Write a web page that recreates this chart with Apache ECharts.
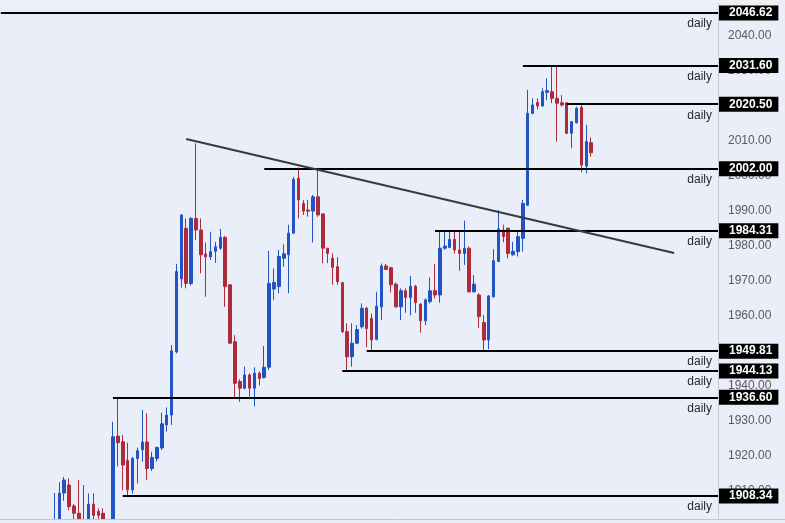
<!DOCTYPE html>
<html><head><meta charset="utf-8">
<script src="https://cdn.jsdelivr.net/npm/echarts@6/dist/echarts.min.js"></script>
<style>html,body{margin:0;padding:0;background:#e9eef8;}#c{width:785px;height:523px;}</style>
</head><body><div id="c"></div><script>
// daily candles (oldest first)
const opens = [
 1896,1899,1909.2,1911.5,1905.5,1903.4,1896,1900.5,1906.0,1903.9,1903.4,1900,
 1897,1925.5,1923.9,1918.5,1910.1,1919.1,1921.6,1923.8,1916.2,1919.1,
 1922.1,1928.7,1931.5,1949.6,1970.5,1985.0,1969.2,1987.8,1984.5,1977.6,
 1976.8,1978.4,1979.3,1982.4,1968.8,1952.5,1941.1,1939.2,1943.0,1939.2,
 1943.5,1942.3,1945.2,1967.6,1968.3,1976.4,1977.4,1983.6,1999.3,1992.1,
 1990.2,1989.9,1994.0,1989.1,1979.3,1976.4,1974.0,1969.4,1955.4,1948.2,
 1952.1,1956.8,1962.1,1959.2,1953.2,1962.5,1974.2,1973.7,1969.0,1962.5,
 1967.1,1965.2,1968.4,1963.3,1958.5,1964.0,1967.1,1965.9,1979.3,1979.5,
 1981.8,1978.8,1977.8,1979.3,1966.8,1965.9,1958.0,1953.0,1965.4,1975.5,
 1984.5,1985.0,1977.4,1978.3,1982.1,1991.6,2017.9,2021.0,2020.0,2023.9,
 2024.1,2022.2,2020.9,2020.9,2012.2,2015.2,2019.6,2002.8,2009.5
];
const closes = [
 1900,1909.2,1912.9,1905.3,1903.4,1900.5,1901,1906.0,1902.8,1902.8,1901.0,1896,
 1925.3,1923.6,1917.2,1910.1,1919.1,1921.3,1923.8,1916.2,1919.4,1922.2,
 1929.0,1931.5,1949.9,1972.6,1988.8,1969.2,1987.8,1984.5,1977.4,1976.8,
 1978.3,1979.7,1982.4,1968.3,1952.1,1940.6,1939.2,1943.0,1939.2,1943.5,
 1942.0,1945.2,1969.2,1969.5,1976.9,1977.7,1983.6,1999.0,1993.1,1989.9,
 1989.9,1994.0,1988.8,1979.3,1977.8,1973.8,1969.7,1955.4,1948.2,1952.1,
 1956.0,1962.1,1956.3,1953.0,1962.7,1974.2,1973.2,1968.8,1962.5,1967.1,
 1965.2,1968.4,1963.7,1958.5,1964.5,1967.1,1965.9,1979.3,1979.9,1981.8,
 1978.8,1977.8,1979.3,1966.8,1969.0,1959.7,1953.0,1965.6,1975.7,1984.8,
 1982.6,1977.8,1978.4,1982.6,1992.1,2017.9,2020.3,2020.0,2024.1,2024.4,
 2022.2,2020.8,2020.3,2012.2,2015.5,2019.3,2003.1,2009.8,2006.6
];
const lows = [
 1894,1897,1907,1904.3,1901,1899,1895,1899,1901,1901.2,1899,1894,
 1895,1916.8,1910,1908.34,1909,1911.9,1918.2,1912.9,1915.5,1918.2,
 1921.5,1926.8,1928.7,1949.2,1968.0,1967.8,1968.6,1981.6,1972.1,1965.4,
 1975.9,1975.1,1978.8,1962.5,1951.8,1936.3,1935.3,1938.9,1936.8,1934.0,
 1940.0,1942.0,1944.4,1964.5,1966.4,1974.0,1966.4,1983.4,1987.8,1988.8,
 1988.3,1980.9,1988.3,1975.0,1975.0,1968.8,1968.8,1955.0,1944.13,1945.4,
 1951.8,1956.3,1951.0,1949.81,1952.9,1958.7,1973.0,1966.6,1962.3,1958.7,
 1960.8,1960.1,1960.8,1955.1,1957.3,1963.5,1964.9,1963.7,1978.8,1979.3,
 1977.8,1972.8,1974.5,1966.6,1966.6,1956.5,1949.81,1950.4,1965.1,1975.3,
 1981.0,1976.4,1977.2,1976.9,1978.3,1991.4,2017.6,2019.0,2019.8,2021.7,
 2020.8,2009.8,2019.8,2011.9,2007.9,2015.0,2001.0,2000.7,2005.5
];
const highs = [
 1909.2,1912.3,1913.8,1913.4,1906.1,1912.9,1911.5,1909.1,1909.1,1904.8,1904.8,1901,
 1929.6,1936.6,1925.8,1923.6,1919.6,1922.2,1933.0,1932.0,1921.0,1922.5,
 1932.2,1933.7,1951.6,1974.8,1989.0,1987.8,1988.2,2009.3,1987.8,1980.9,
 1984.0,1981.1,1984.8,1982.8,1969.0,1954.4,1941.8,1945.4,1943.5,1945.2,
 1944.0,1951.3,1978.5,1973.5,1978.8,1980.4,1986.0,1999.7,2002.4,1993.1,
 1993.1,1994.5,2002.0,1989.3,1979.3,1977.8,1976.7,1969.7,1957.8,1957.8,
 1957.3,1963.5,1962.5,1960.6,1966.8,1974.9,1974.8,1974.0,1969.5,1967.8,
 1967.8,1971.3,1968.8,1963.5,1964.9,1970.9,1974.8,1984.0,1984.0,1984.0,
 1984.0,1984.5,1987.2,1979.8,1971.6,1966.4,1960.2,1965.9,1979.0,1990.2,
 1986.0,1985.2,1981.1,1984.0,1993.1,2024.6,2022.2,2022.2,2025.1,2027.9,
 2031.6,2031.3,2023.1,2021.1,2015.7,2019.8,2020.5,2014.6,2011.0
];
const firstCandleSlot = 11;   // slot of the first candle on the time axis
const slotCount = 148;        // daily slots shown, incl. empty future space
const levels = [2046.62, 2031.60, 2020.50, 2002.00, 1984.31, 1949.81, 1944.13, 1936.60, 1908.34];
const levelStartSlot = [0, 107, 116, 54, 89, 75, 70, 23, 25];
const trendStart = [38, 2010.55];
const trendEnd = [138, 1977.9];
const yTicks = {min: 1900, max: 2050, step: 10};

const categories = [];
const candles = [];
for (let k = 0; k < slotCount; k++) {
  categories.push('D' + k);
  const i = k - firstCandleSlot;
  candles.push(i >= 0 && i < opens.length ? [opens[i], closes[i], lows[i], highs[i]] : '-');
}

const FONT = 'Liberation Sans';
const lines = [];
levels.forEach((v, i) => {
  lines.push([
    {coord: [levelStartSlot[i], v], lineStyle: {color: '#000', width: 2, type: 'solid'},
     label: {show: true, position: 'end', distance: 1, formatter: v.toFixed(2), backgroundColor: '#000',
             color: '#fff', fontWeight: 'bold', fontSize: 12, fontFamily: FONT, padding: [1, 6, 1, 10], lineHeight: 13}},
    {coord: [slotCount - 1, v]}
  ]);
  lines.push([
    {coord: [levelStartSlot[i], v], lineStyle: {color: 'rgba(0,0,0,0)', width: 1, type: 'solid'},
     label: {show: true, position: 'insideEndBottom', distance: [6, 5], formatter: 'daily',
             color: '#2a2a2a', fontSize: 12, fontFamily: FONT}},
    {coord: [slotCount - 1, v]}
  ]);
});
lines.push([
  {coord: trendStart, lineStyle: {color: '#3a3a3a', width: 2, type: 'solid'}, label: {show: false}},
  {coord: trendEnd}
]);

const chart = echarts.init(document.getElementById('c'), null, {renderer: 'canvas'});
chart.setOption({
  backgroundColor: '#e9eef8',
  animation: false,
  grid: {left: 0.78, width: 717.22, top: 1.19, height: 523.96, containLabel: false, outerBoundsMode: 'none'},
  xAxis: {type: 'category', data: categories, boundaryGap: false, show: false},
  yAxis: {
    type: 'value', position: 'right', min: yTicks.min, max: yTicks.max, interval: yTicks.step,
    splitLine: {show: false},
    axisLine: {show: true, lineStyle: {color: '#c4c8d2', width: 1}},
    axisTick: {show: false},
    axisLabel: {show: true, margin: 10, color: '#5a5a5a', fontSize: 12, fontFamily: FONT,
                showMinLabel: false, showMaxLabel: false, formatter: v => v.toFixed(2)}
  },
  series: [{
    type: 'candlestick',
    data: candles,
    barWidth: 3,
    clip: true,
    itemStyle: {color: '#2352c4', color0: '#ad2b3b', borderColor: '#2352c4', borderColor0: '#ad2b3b', borderWidth: 1},
    markLine: {silent: true, symbol: ['none', 'none'], animation: false, precision: 2, data: lines}
  }],
  graphic: [
    {type: 'rect', z: 100, shape: {x: 0, y: 0, width: 785, height: 3}, style: {fill: '#eef0f4'}},
    {type: 'rect', z: 100, shape: {x: 0, y: 519, width: 785, height: 4}, style: {fill: '#e9eef8'}},
    {type: 'line', z: 101, shape: {x1: 0, y1: 519.5, x2: 785, y2: 519.5}, style: {stroke: '#c4c8d2', lineWidth: 1}}
  ]
});
</script></body></html>
